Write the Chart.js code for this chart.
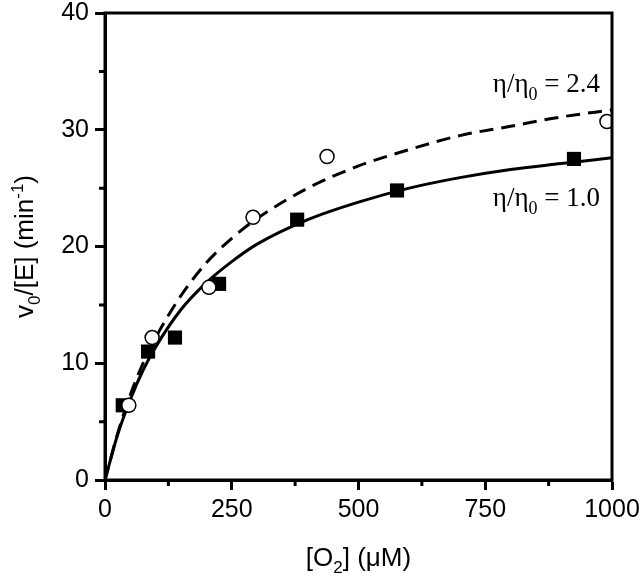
<!DOCTYPE html>
<html>
<head>
<meta charset="utf-8">
<script src="https://cdn.jsdelivr.net/npm/chart.js@4.4.1/dist/chart.umd.min.js"></script>
<style>
  html, body { margin: 0; padding: 0; background: #fff; }
  #wrap { width: 644px; height: 578px; }
</style>
</head>
<body>
<div id="wrap"><canvas id="kinChart" width="644" height="578"></canvas></div>
<script>
// ===== DATA =====
// eta/eta0 = 1.0 : filled squares
const sqX = [35, 85, 138, 225, 379, 576, 925];
const sqY = [6.4, 11.0, 12.2, 16.8, 22.3, 24.8, 27.5];
// eta/eta0 = 2.4 : open circles
const ciX = [47, 93, 205, 292, 438, 990];
const ciY = [6.4, 12.2, 16.5, 22.5, 27.7, 30.7];

// fitted curves
const fitX     = [0, 25, 50, 75, 100, 150, 200, 250, 300, 400, 500, 600, 700, 800, 900, 1000];
const solidY   = [0, 3.9, 6.9, 9.4, 11.4, 14.6, 16.9, 18.7, 20.2, 22.3, 23.8, 25.0, 25.9, 26.6, 27.1, 27.6];
const dashedY  = [0, 4.0, 7.3, 10.0, 12.2, 15.8, 18.6, 20.7, 22.4, 25.0, 26.9, 28.3, 29.5, 30.3, 31.1, 31.7];

// tick labels
const xTicks = [0, 250, 500, 750, 1000];
const yTicks = [0, 10, 20, 30, 40];
const xMinor = [125, 375, 625, 875];
const yMinor = [5, 15, 25, 35];

const SANS = "'Liberation Sans', Arial, sans-serif";
const SERIF = "'Liberation Serif', 'Times New Roman', serif";

function pts(xs, ys) {
    return xs.map((x, i) => ({ x: x, y: ys[i] }));
}

// draw a run of text pieces (for sub/superscripts)
function drawParts(ctx, parts, x, y, align) {
    let total = 0;
    parts.forEach(p => {
        ctx.font = p.font;
        total += ctx.measureText(p.t).width;
    });
    let cx = x;
    if (align === 'center') cx = x - total / 2;
    if (align === 'right') cx = x - total;
    ctx.textAlign = 'left';
    ctx.textBaseline = 'alphabetic';
    parts.forEach(p => {
        ctx.font = p.font;
        ctx.fillText(p.t, cx, y + (p.dy || 0));
        cx += ctx.measureText(p.t).width;
    });
}

const decorPlugin = {
    id: 'decor',
    afterDraw(chart) {
        const ctx = chart.ctx;
        const a = chart.chartArea;
        const xs = chart.scales.x;
        const ys = chart.scales.y;
        ctx.save();
        ctx.strokeStyle = '#000';
        ctx.fillStyle = '#000';

        // frame (top + right sides)
        ctx.lineWidth = 3;
        ctx.strokeRect(a.left, a.top, a.right - a.left, a.bottom - a.top);

        // minor ticks
        ctx.beginPath();
        xMinor.forEach(v => {
            const px = xs.getPixelForValue(v);
            ctx.moveTo(px, a.bottom);
            ctx.lineTo(px, a.bottom + 6);
        });
        yMinor.forEach(v => {
            const py = ys.getPixelForValue(v);
            ctx.moveTo(a.left, py);
            ctx.lineTo(a.left - 6, py);
        });
        ctx.stroke();

        // axis titles
        const big = "26px " + SANS;
        const small = "17px " + SANS;
        drawParts(ctx, [
            { t: '[O', font: big },
            { t: '2', font: small, dy: 7 },
            { t: '] (\u03BCM)', font: big }
        ], (a.left + a.right) / 2, 566, 'center');

        ctx.translate(33, (a.top + a.bottom) / 2);
        ctx.rotate(-Math.PI / 2);
        drawParts(ctx, [
            { t: 'v', font: big },
            { t: '0', font: small, dy: 7 },
            { t: '/[E] (min', font: big },
            { t: '-1', font: small, dy: -10 },
            { t: ')', font: big }
        ], 0, 0, 'center');
        ctx.setTransform(1, 0, 0, 1, 0, 0);

        // curve labels
        const sBig = "27px " + SERIF;
        const sSmall = "18px " + SERIF;
        drawParts(ctx, [
            { t: '\u03B7/\u03B7', font: sBig },
            { t: '0', font: sSmall, dy: 8 },
            { t: ' = 2.4', font: sBig }
        ], 600, 92, 'right');
        drawParts(ctx, [
            { t: '\u03B7/\u03B7', font: sBig },
            { t: '0', font: sSmall, dy: 8 },
            { t: ' = 1.0', font: sBig }
        ], 600, 206, 'right');
        ctx.restore();
    }
};

document.addEventListener("DOMContentLoaded", () => {
    const ctx = document.getElementById('kinChart').getContext('2d');

    const axisCommon = {
        type: 'linear',
        grid: {
            display: true,
            drawOnChartArea: false,
            drawTicks: true,
            tickLength: 10,
            tickWidth: 3,
            color: '#000'
        },
        border: { display: true, width: 3, color: '#000' },
        title: { display: false }
    };

    new Chart(ctx, {
        type: 'scatter',
        data: {
            datasets: [
                {
                    label: 'fit 1.0',
                    data: pts(fitX, solidY),
                    showLine: true,
                    borderColor: '#000',
                    borderWidth: 3,
                    pointRadius: 0,
                    cubicInterpolationMode: 'monotone',
                    order: 4
                },
                {
                    label: 'fit 2.4',
                    data: pts(fitX, dashedY),
                    showLine: true,
                    borderColor: '#000',
                    borderWidth: 3,
                    borderDash: [14, 8],
                    pointRadius: 0,
                    cubicInterpolationMode: 'monotone',
                    order: 3
                },
                {
                    label: 'eta 1.0',
                    data: pts(sqX, sqY),
                    pointStyle: 'rect',
                    pointRadius: 10,
                    backgroundColor: '#000',
                    borderColor: '#000',
                    borderWidth: 0,
                    order: 2
                },
                {
                    label: 'eta 2.4',
                    data: pts(ciX, ciY),
                    pointStyle: 'circle',
                    pointRadius: 7,
                    backgroundColor: '#fff',
                    borderColor: '#000',
                    borderWidth: 1.5,
                    order: 1
                }
            ]
        },
        options: {
            responsive: false,
            animation: false,
            layout: { padding: { top: 13, right: 32, left: 0, bottom: 0 } },
            plugins: {
                legend: { display: false },
                tooltip: { enabled: false }
            },
            scales: {
                x: Object.assign({}, axisCommon, {
                    min: 0, max: 1000,
                    afterBuildTicks: s => { s.ticks = xTicks.map(v => ({ value: v })); },
                    afterFit: s => { s.height = 98; s.paddingLeft = 0; s.paddingRight = 0; },
                    ticks: {
                        color: '#000', padding: 5, maxRotation: 0,
                        font: { family: SANS, size: 25 },
                        callback: v => String(v)
                    }
                }),
                y: Object.assign({}, axisCommon, {
                    min: 0, max: 40,
                    afterBuildTicks: s => { s.ticks = yTicks.map(v => ({ value: v })); },
                    afterFit: s => { s.width = 105; s.paddingTop = 0; s.paddingBottom = 0; },
                    ticks: {
                        color: '#000', padding: 6,
                        font: { family: SANS, size: 25 },
                        callback: v => String(v)
                    }
                })
            }
        },
        plugins: [decorPlugin]
    });
});
</script>
</body>
</html>
